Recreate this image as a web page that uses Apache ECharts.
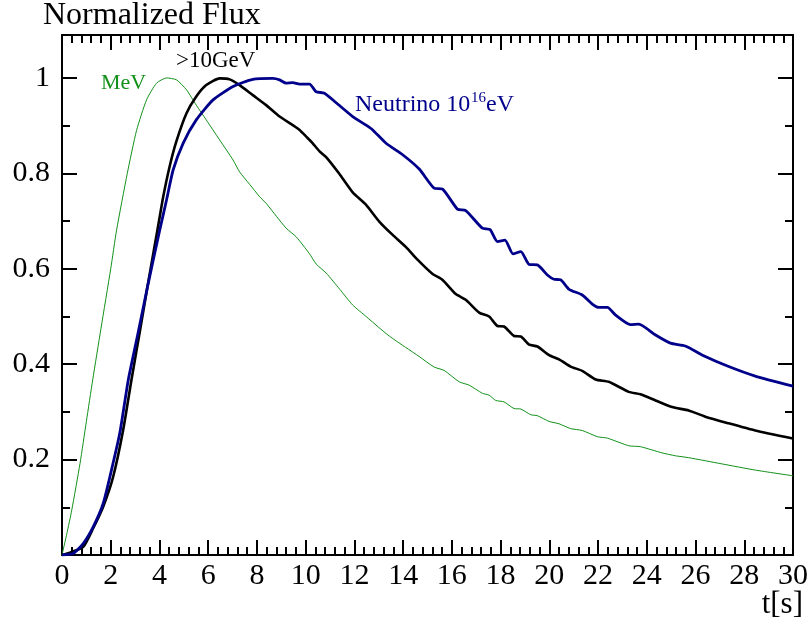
<!DOCTYPE html>
<html>
<head>
<meta charset="utf-8">
<script src="https://cdn.jsdelivr.net/npm/echarts@6/dist/echarts.min.js"></script>
<style>
html,body{margin:0;padding:0;background:#fff;}
#chart{width:811px;height:631px;}
</style>
</head>
<body>
<div id="chart"></div>
<script>
// ---- Data ----
const mevT = [0,0.2,0.4,0.74,1.0,1.26,1.6,2.0,2.24,2.68,3.06,3.47,3.88,4.29,4.7,5.11,5.51,5.92,6.47,7.02,7.29,7.7,8.11,8.38,8.8,9.2,9.61,10.15,10.43,10.84,11.4,11.93,12.48,13.0,13.43,14.11,14.66,15.27,15.68,16.3,16.71,17.25,17.53,17.8,18.14,18.55,18.83,19.24,19.51,19.99,20.4,20.87,21.35,21.97,22.38,23.26,23.74,24.63,25.17,25.72,27.08,28.45,30];
const mevV = [0,0.045,0.094,0.192,0.28,0.367,0.475,0.6,0.681,0.8,0.89,0.954,0.989,1.0,0.996,0.975,0.943,0.912,0.87,0.828,0.803,0.777,0.751,0.737,0.71,0.685,0.667,0.632,0.61,0.591,0.557,0.524,0.5,0.477,0.459,0.435,0.416,0.394,0.387,0.363,0.356,0.339,0.335,0.324,0.321,0.307,0.306,0.294,0.292,0.28,0.275,0.265,0.261,0.248,0.245,0.229,0.227,0.214,0.208,0.204,0.191,0.178,0.166];

const gevT = [0,0.33,0.87,1.28,1.69,2.1,2.51,2.85,3.2,3.55,3.94,4.15,4.42,4.7,5.11,5.51,5.92,6.47,6.88,7.29,7.83,8.38,8.93,9.47,9.75,10.02,10.29,10.57,10.84,11.38,11.93,12.48,13.02,13.57,14.11,14.59,15.21,15.61,16.16,16.57,17.12,17.53,17.87,18.14,18.55,18.83,19.17,19.51,19.99,20.4,20.87,21.35,21.9,22.44,23.26,23.74,24.36,25.04,25.72,26.4,27.36,28.45,30];
const gevV = [0,0.005,0.017,0.056,0.101,0.164,0.262,0.367,0.47,0.575,0.688,0.75,0.815,0.868,0.926,0.961,0.985,0.999,0.997,0.985,0.964,0.943,0.919,0.901,0.891,0.877,0.863,0.846,0.834,0.799,0.76,0.734,0.699,0.671,0.646,0.619,0.589,0.577,0.547,0.535,0.508,0.5,0.48,0.479,0.459,0.458,0.441,0.437,0.419,0.41,0.395,0.386,0.368,0.363,0.342,0.337,0.324,0.31,0.303,0.29,0.276,0.261,0.244];

const nuT = [0,0.45,0.87,1.28,1.69,2.03,2.37,2.72,3.1,3.5,4.01,4.29,4.56,4.97,5.51,6.2,7.02,7.83,8.65,8.93,9.2,9.47,9.75,10.16,10.43,10.77,11.25,11.93,12.48,12.75,13.3,13.98,14.66,15.27,15.62,16.23,16.57,17.25,17.57,17.87,18.18,18.51,18.83,19.17,19.51,19.92,20.19,20.46,20.81,21.35,21.76,22.03,22.38,22.72,23.33,23.67,24.36,24.97,25.58,26.4,27.36,28.45,30];
const nuV = [0,0.003,0.024,0.059,0.108,0.178,0.255,0.367,0.46,0.56,0.681,0.744,0.807,0.863,0.912,0.954,0.982,0.997,0.999,0.996,0.989,0.99,0.987,0.987,0.971,0.968,0.948,0.919,0.901,0.891,0.863,0.839,0.809,0.769,0.767,0.725,0.722,0.685,0.682,0.657,0.66,0.631,0.636,0.609,0.608,0.587,0.578,0.577,0.557,0.545,0.526,0.519,0.519,0.503,0.483,0.484,0.461,0.444,0.438,0.416,0.395,0.375,0.354];

const xTicks = {min: 0, max: 30, interval: 2};
const yTicks = {min: 0, max: 1.09, interval: 0.2, minor: 0.1};

// ---- Chart ----
const FONT = 'Liberation Serif';
const GREEN = '#12901a';
const NAVY = '#00008b';
const pairs = (t, v) => t.map((x, i) => [x, v[i]]);

const chart = echarts.init(document.getElementById('chart'), null, {renderer: 'canvas'});

const tickStyle = {color: '#000', width: 2};
function xAxisCfg(pos, showLabel) {
  return {
    type: 'value', position: pos,
    min: xTicks.min, max: xTicks.max, interval: xTicks.interval,
    axisLine: {show: true, onZero: false, lineStyle: {color: '#000', width: 2}},
    axisTick: {show: true, inside: true, length: 15, lineStyle: tickStyle},
    minorTick: {show: true, splitNumber: 5, length: 8, lineStyle: tickStyle},
    splitLine: {show: false}, minorSplitLine: {show: false},
    axisLabel: {show: showLabel, color: '#000', fontFamily: FONT, fontSize: 30, margin: 6}
  };
}
function yAxisCfg(pos, interval, len, showLine, showLabel) {
  return {
    type: 'value', position: pos,
    min: yTicks.min, max: yTicks.max, interval: interval,
    axisLine: {show: showLine, onZero: false, lineStyle: {color: '#000', width: 2}},
    axisTick: {show: true, inside: true, length: len, lineStyle: tickStyle},
    splitLine: {show: false},
    axisLabel: {
      show: showLabel, color: '#000', fontFamily: FONT, fontSize: 30, margin: 12,
      formatter: function (v) {
        const k = v / yTicks.interval;
        if (v <= 0 || Math.abs(k - Math.round(k)) > 1e-6) return '';
        return String(Math.round(v * 10) / 10);
      }
    }
  };
}

const option = {
  animation: false,
  backgroundColor: '#fff',
  grid: {left: 62, right: 17, top: 35, bottom: 76},
  xAxis: [xAxisCfg('bottom', true), xAxisCfg('top', false)],
  yAxis: [
    yAxisCfg('left', yTicks.interval, 15, true, true),
    yAxisCfg('left', yTicks.minor, 8, false, false),
    yAxisCfg('right', yTicks.interval, 15, true, false),
    yAxisCfg('right', yTicks.minor, 8, false, false)
  ],
  series: [
    {name: 'MeV', type: 'line', data: pairs(mevT, mevV), showSymbol: false, smooth: 0.2,
     lineStyle: {color: GREEN, width: 1}, xAxisIndex: 0, yAxisIndex: 0},
    {name: '>10GeV', type: 'line', data: pairs(gevT, gevV), showSymbol: false, smooth: 0.2,
     lineStyle: {color: '#000', width: 2.6}, xAxisIndex: 0, yAxisIndex: 0},
    {name: 'Neutrino', type: 'line', data: pairs(nuT, nuV), showSymbol: false, smooth: 0.2,
     lineStyle: {color: NAVY, width: 2.8}, xAxisIndex: 0, yAxisIndex: 0}
  ],
  graphic: [
    {type: 'text', left: 43, top: 0, style: {text: 'Normalized Flux', font: '32px "Liberation Serif"', fill: '#000'}},
    {type: 'text', right: 8, top: 589, style: {text: 't[s]', font: '31px "Liberation Serif"', fill: '#000'}},
    {type: 'text', left: 101, top: 72, style: {text: 'MeV', font: '22px "Liberation Serif"', fill: GREEN}},
    {type: 'text', left: 176, top: 49, style: {text: '>10GeV', font: '23px "Liberation Serif"', fill: '#000'}},
    {type: 'text', left: 355, top: 93, style: {text: 'Neutrino 10', font: '24px "Liberation Serif"', fill: NAVY}},
    {type: 'text', left: 471, top: 91, style: {text: '16', font: '15px "Liberation Serif"', fill: NAVY}},
    {type: 'text', left: 486, top: 93, style: {text: 'eV', font: '24px "Liberation Serif"', fill: NAVY}}
  ]
};
chart.setOption(option);
</script>
</body>
</html>
